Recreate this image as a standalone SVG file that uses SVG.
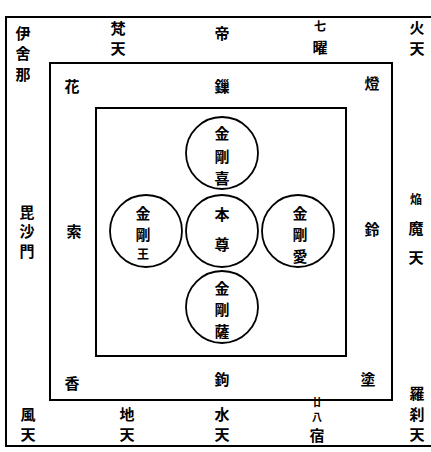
<svg xmlns="http://www.w3.org/2000/svg" width="431" height="452" viewBox="0 0 431 452">
<style>
.f{fill:none;stroke:#000;stroke-width:2}
.c{fill:none;stroke:#000;stroke-width:1.8}
text{font-family:"Noto Sans CJK JP","Noto Sans CJK TC",sans-serif;font-weight:700;font-size:15px;fill:#000;text-anchor:middle;dominant-baseline:central}
.s{font-size:12px}
.t{font-size:10px}
</style>
<rect width="431" height="452" fill="#fff"/>
<g id="frames">
<polyline class="f" points="431,17 6,17 6,446 431,446"/>
<rect class="f" x="50" y="63" width="342" height="337"/>
<rect class="f" x="96" y="108" width="250" height="248"/>
</g>
<g id="outer-labels">
<text x="23" y="32">伊</text><text x="23" y="52">舍</text><text x="23" y="73">那</text>
<text x="118" y="27">梵</text><text x="118" y="47">天</text>
<text x="222" y="32">帝</text>
<text x="320" y="25" class="s">七</text><text x="320" y="46">曜</text>
<text x="417" y="26">火</text><text x="417" y="47">天</text>
<text x="27" y="211">毘</text><text x="27" y="230">沙</text><text x="27" y="250">門</text>
<text x="416" y="198" class="s">焔</text><text x="416" y="227">魔</text><text x="416" y="256">天</text>
<text x="28" y="413">風</text><text x="28" y="433">天</text>
<text x="127" y="413">地</text><text x="127" y="433">天</text>
<text x="222" y="413">水</text><text x="222" y="433">天</text>
<text x="317" y="401" class="t">廿</text><text x="317" y="416" class="t">八</text><text x="317" y="434">宿</text>
<text x="417" y="392">羅</text><text x="417" y="413">刹</text><text x="417" y="433">天</text>
</g>
<g id="middle-labels">
<text x="72" y="85">花</text>
<text x="222" y="85">鏁</text>
<text x="372" y="82">燈</text>
<text x="74" y="230">索</text>
<text x="372" y="228">鈴</text>
<text x="72" y="382">香</text>
<text x="222" y="378">鉤</text>
<text x="368" y="378">塗</text>
</g>
<g id="n-xi"><circle class="c" cx="222" cy="153" r="36"/><text x="222" y="132">金</text><text x="222" y="155">剛</text><text x="222" y="177">喜</text></g>
<g id="n-wang"><circle class="c" cx="146" cy="231" r="36"/><text x="143" y="212">金</text><text x="143" y="233">剛</text><text x="143" y="253" class="s">王</text></g>
<g id="n-benzun"><circle class="c" cx="222" cy="231" r="36"/><text x="222" y="213">本</text><text x="222" y="243">尊</text></g>
<g id="n-ai"><circle class="c" cx="298" cy="231" r="36"/><text x="300" y="212">金</text><text x="300" y="233">剛</text><text x="300" y="255">愛</text></g>
<g id="n-sa"><circle class="c" cx="222" cy="307" r="36"/><text x="222" y="287">金</text><text x="222" y="308">剛</text><text x="222" y="330">薩</text></g>
<g id="connectors"/>
</svg>
